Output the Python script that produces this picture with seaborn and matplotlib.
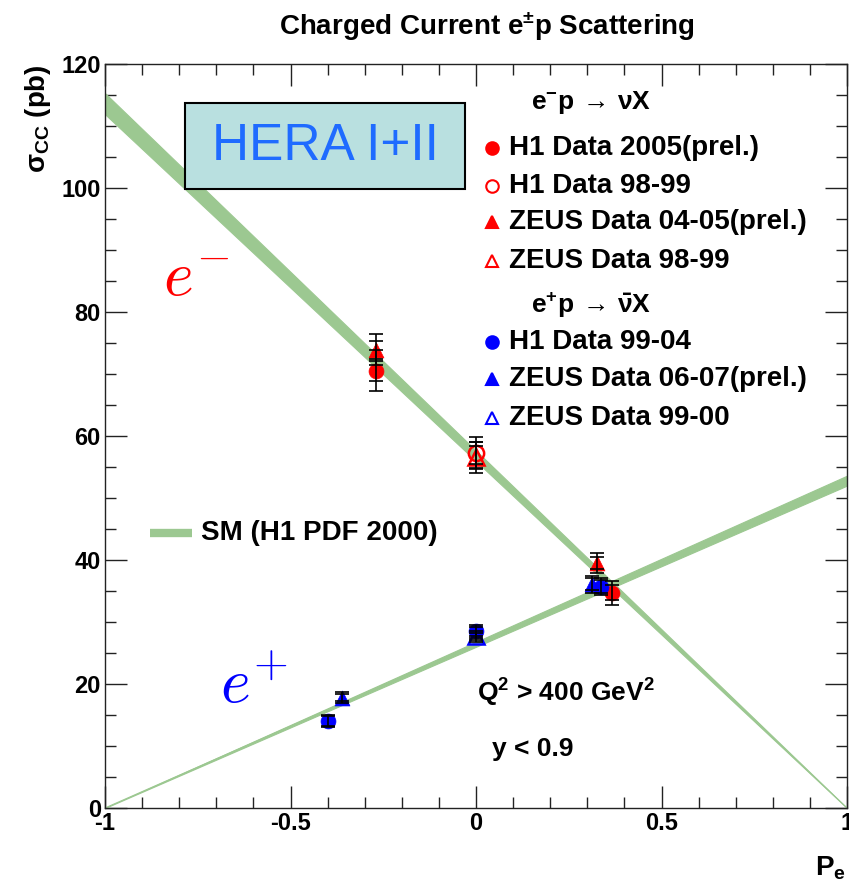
import numpy as np
import pandas as pd
import seaborn as sns
import matplotlib
matplotlib.use("Agg")
import matplotlib.pyplot as plt
from matplotlib.patches import Rectangle
from matplotlib.ticker import FixedLocator, FixedFormatter, MultipleLocator

# ---------------- data ----------------
# SM prediction (H1 PDF 2000), band end points at P = -1 and P = +1
sm_P = [-1.0, 1.0]
sm_em = [113.6, 0.0]
sm_em_halfwidth = [1.7, 0.0]
sm_ep = [0.0, 52.8]
sm_ep_halfwidth = [0.0, 0.8]

# e- p -> nu X
em_h1_05_P = [-0.27, 0.367]
em_h1_05_sig = [70.5, 34.7]
em_h1_05_tot = [3.3, 1.9]
em_h1_05_stat = [1.6, 1.2]

em_h1_9899_P = [0.0]
em_h1_9899_sig = [57.3]
em_h1_9899_tot = [2.6]
em_h1_9899_stat = [1.8]

em_zeus_0405_P = [-0.27, 0.326]
em_zeus_0405_sig = [73.9, 39.5]
em_zeus_0405_tot = [2.5, 1.6]
em_zeus_0405_stat = [1.4, 1.0]

em_zeus_9899_P = [0.0]
em_zeus_9899_sig = [56.6]
em_zeus_9899_tot = [2.5]
em_zeus_9899_stat = [1.8]

# e+ p -> nubar X
ep_h1_9904_P = [-0.40, 0.0, 0.336]
ep_h1_9904_sig = [14.0, 28.5, 35.7]
ep_h1_9904_tot = [1.0, 1.0, 1.4]
ep_h1_9904_stat = [0.8, 0.7, 1.0]

ep_zeus_0607_P = [-0.362, 0.312]
ep_zeus_0607_sig = [17.8, 36.1]
ep_zeus_0607_tot = [0.9, 1.4]
ep_zeus_0607_stat = [0.6, 1.0]

ep_zeus_9900_P = [0.0]
ep_zeus_9900_sig = [27.7]
ep_zeus_9900_tot = [0.9]
ep_zeus_9900_stat = [0.6]

x_ticks = [-1.0, -0.5, 0.0, 0.5, 1.0]
x_ticklabels = ["-1", "-0.5", "0", "0.5", "1"]
y_ticks = [0, 20, 40, 60, 80, 100, 120]
y_ticklabels = ["0", "20", "40", "60", "80", "100", "120"]

legend_em = ["H1 Data 2005(prel.)", "H1 Data 98-99",
             "ZEUS Data 04-05(prel.)", "ZEUS Data 98-99"]
legend_ep = ["H1 Data 99-04", "ZEUS Data 06-07(prel.)", "ZEUS Data 99-00"]

# ---------------- style ----------------
sns.set_style("ticks")
plt.rcParams["font.family"] = ["Liberation Sans", "DejaVu Sans"]
plt.rcParams["font.weight"] = "bold"
plt.rcParams["text.color"] = "black"
plt.rcParams["axes.labelcolor"] = "black"
plt.rcParams["xtick.color"] = "black"
plt.rcParams["ytick.color"] = "black"
plt.rcParams["mathtext.fontset"] = "custom"
plt.rcParams["mathtext.rm"] = "Liberation Sans:bold"
plt.rcParams["mathtext.it"] = "Liberation Sans:bold"
plt.rcParams["mathtext.bf"] = "Liberation Sans:bold"
plt.rcParams["mathtext.sf"] = "Liberation Sans:bold"

GREEN = "#9cc891"
RED = "#ff0000"
BLUE = "#0000ff"

W, H = 849, 885
fig = plt.figure(figsize=(W / 100, H / 100), dpi=100)
ax = fig.add_axes([105 / W, 77 / H, 742 / W, 744 / H])

# ---------------- SM bands ----------------
em_lo = np.array(sm_em) - np.array(sm_em_halfwidth)
em_hi = np.array(sm_em) + np.array(sm_em_halfwidth)
ep_lo = np.array(sm_ep) - np.array(sm_ep_halfwidth)
ep_hi = np.array(sm_ep) + np.array(sm_ep_halfwidth)
ax.fill_between(sm_P, em_lo, em_hi, color=GREEN, lw=0.8, ec=GREEN, zorder=1)
ax.fill_between(sm_P, ep_lo, ep_hi, color=GREEN, lw=0.8, ec=GREEN, zorder=1)
sns.lineplot(x=sm_P, y=sm_em, color=GREEN, lw=0.8, ax=ax, zorder=1)
sns.lineplot(x=sm_P, y=sm_ep, color=GREEN, lw=0.8, ax=ax, zorder=1)

# ---------------- data points ----------------
series = [
    (em_h1_05_P, em_h1_05_sig, em_h1_05_tot, em_h1_05_stat, "o", RED, True),
    (em_h1_9899_P, em_h1_9899_sig, em_h1_9899_tot, em_h1_9899_stat, "o", RED, False),
    (em_zeus_0405_P, em_zeus_0405_sig, em_zeus_0405_tot, em_zeus_0405_stat, "^", RED, True),
    (em_zeus_9899_P, em_zeus_9899_sig, em_zeus_9899_tot, em_zeus_9899_stat, "^", RED, False),
    (ep_h1_9904_P, ep_h1_9904_sig, ep_h1_9904_tot, ep_h1_9904_stat, "o", BLUE, True),
    (ep_zeus_0607_P, ep_zeus_0607_sig, ep_zeus_0607_tot, ep_zeus_0607_stat, "^", BLUE, True),
    (ep_zeus_9900_P, ep_zeus_9900_sig, ep_zeus_9900_tot, ep_zeus_9900_stat, "^", BLUE, False),
]
for P, s, tot, stat, mk, col, filled in series:
    df = pd.DataFrame({"P": P, "sig": s})
    if filled:
        sns.scatterplot(data=df, x="P", y="sig", marker=mk, s=115, color=col,
                        edgecolor=col, linewidth=0.5, ax=ax, zorder=3)
    else:
        ax.plot(P, s, ls="none", marker=mk, ms=11, mfc="none", mec=col,
                mew=1.8, zorder=3)
    ax.errorbar(P, s, yerr=tot, fmt="none", ecolor="black", elinewidth=1.2,
                capsize=5, capthick=1.2, zorder=4)
    ax.errorbar(P, s, yerr=stat, fmt="none", ecolor="black", elinewidth=0,
                capsize=5, capthick=1.2, zorder=4)

# ---------------- axes ----------------
ax.set_xlim(-1, 1)
ax.set_ylim(0, 120)
ax.xaxis.set_major_locator(FixedLocator(x_ticks))
ax.xaxis.set_major_formatter(FixedFormatter(x_ticklabels))
ax.yaxis.set_major_locator(FixedLocator(y_ticks))
ax.yaxis.set_major_formatter(FixedFormatter(y_ticklabels))
ax.xaxis.set_minor_locator(MultipleLocator(0.1))
ax.yaxis.set_minor_locator(MultipleLocator(5))
ax.tick_params(which="both", direction="in", top=True, right=True,
               width=1.0, color="#222222")
ax.tick_params(which="major", length=16, labelsize=17, pad=3)
ax.tick_params(which="minor", length=8)
for lab in ax.get_xticklabels() + ax.get_yticklabels():
    lab.set_fontweight("bold")
for sp in ax.spines.values():
    sp.set_visible(True)
    sp.set_linewidth(1.0)
    sp.set_color("#222222")
ax.set_xlabel("")
ax.set_ylabel("")

fig.text(487 / W, 1 - 27 / H, "Charged Current e$^{\\pm}$p Scattering",
         ha="center", va="center", fontsize=20, fontweight="bold")
fig.text(38 / W, 1 - 64 / H, "σ$_{CC}$ (pb)", rotation=90, ha="center",
         va="top", fontsize=20, fontweight="bold")
fig.text(846 / W, 1 - 868 / H, "P$_{e}$", ha="right", va="center",
         fontsize=20, fontweight="bold")

# HERA box
bx0, by0 = (185 - 105) / 742, (808 - 189) / 744
bw, bh = (465 - 185) / 742, (189 - 103) / 744
ax.add_patch(Rectangle((bx0, by0), bw, bh, transform=ax.transAxes,
                       facecolor="#b9e0e0", edgecolor="black", lw=1.5, zorder=5))
ax.text(bx0 + bw / 2, by0 + bh / 2, "HERA I+II", transform=ax.transAxes,
        ha="center", va="center", fontsize=37, fontweight="normal",
        color="#1f6bff", zorder=6)

def axf(px, py):
    return (px - 105) / 742, (808 - py) / 744

# e- / e+ labels
x, y = axf(163, 296)
ax.text(x, y, r"$e^{-}$", transform=ax.transAxes, color=RED, fontsize=46,
        math_fontfamily="cm", ha="left", va="baseline", zorder=6)
x, y = axf(220, 703)
ax.text(x, y, r"$e^{+}$", transform=ax.transAxes, color=BLUE, fontsize=46,
        math_fontfamily="cm", ha="left", va="baseline", zorder=6)

# legend headers
x, y = axf(531, 103)
ax.text(x, y, r"e$^{-}$p$\,\rightarrow\,\nu$X", transform=ax.transAxes,
        fontsize=19, fontweight="bold", ha="left", va="center")
x, y = axf(531, 305)
ax.text(x, y, r"e$^{+}$p$\,\rightarrow\,\bar{\nu}$X", transform=ax.transAxes,
        fontsize=19, fontweight="bold", ha="left", va="center")

leg_rows = [
    (148, "o", RED, True, legend_em[0]),
    (186, "o", RED, False, legend_em[1]),
    (222, "^", RED, True, legend_em[2]),
    (261, "^", RED, False, legend_em[3]),
    (342, "o", BLUE, True, legend_ep[0]),
    (379, "^", BLUE, True, legend_ep[1]),
    (418, "^", BLUE, False, legend_ep[2]),
]
for py, mk, col, filled, label in leg_rows:
    x, y = axf(492, py)
    ax.plot([x], [y], transform=ax.transAxes, marker=mk, ms=9,
            mfc=col if filled else "none", mec=col, mew=1.5, ls="none",
            clip_on=False, zorder=6)
    x, y = axf(509, py)
    ax.text(x, y, label, transform=ax.transAxes, fontsize=20,
            fontweight="bold", ha="left", va="center")

# SM legend
x0, y0 = axf(150, 533)
x1, _ = axf(192, 533)
ax.plot([x0, x1], [y0, y0], transform=ax.transAxes, color=GREEN, lw=6,
        solid_capstyle="butt")
x, y = axf(201, 533)
ax.text(x, y, "SM (H1 PDF 2000)", transform=ax.transAxes, fontsize=20,
        fontweight="bold", ha="left", va="center")

# cuts
x, y = axf(477, 693)
ax.text(x, y, "Q$^{2}$ > 400 GeV$^{2}$", transform=ax.transAxes,
        fontsize=19, fontweight="bold", ha="left", va="center")
x, y = axf(492, 749)
ax.text(x, y, "y < 0.9", transform=ax.transAxes, fontsize=19,
        fontweight="bold", ha="left", va="center")

fig.savefig("out.png", dpi=100)
